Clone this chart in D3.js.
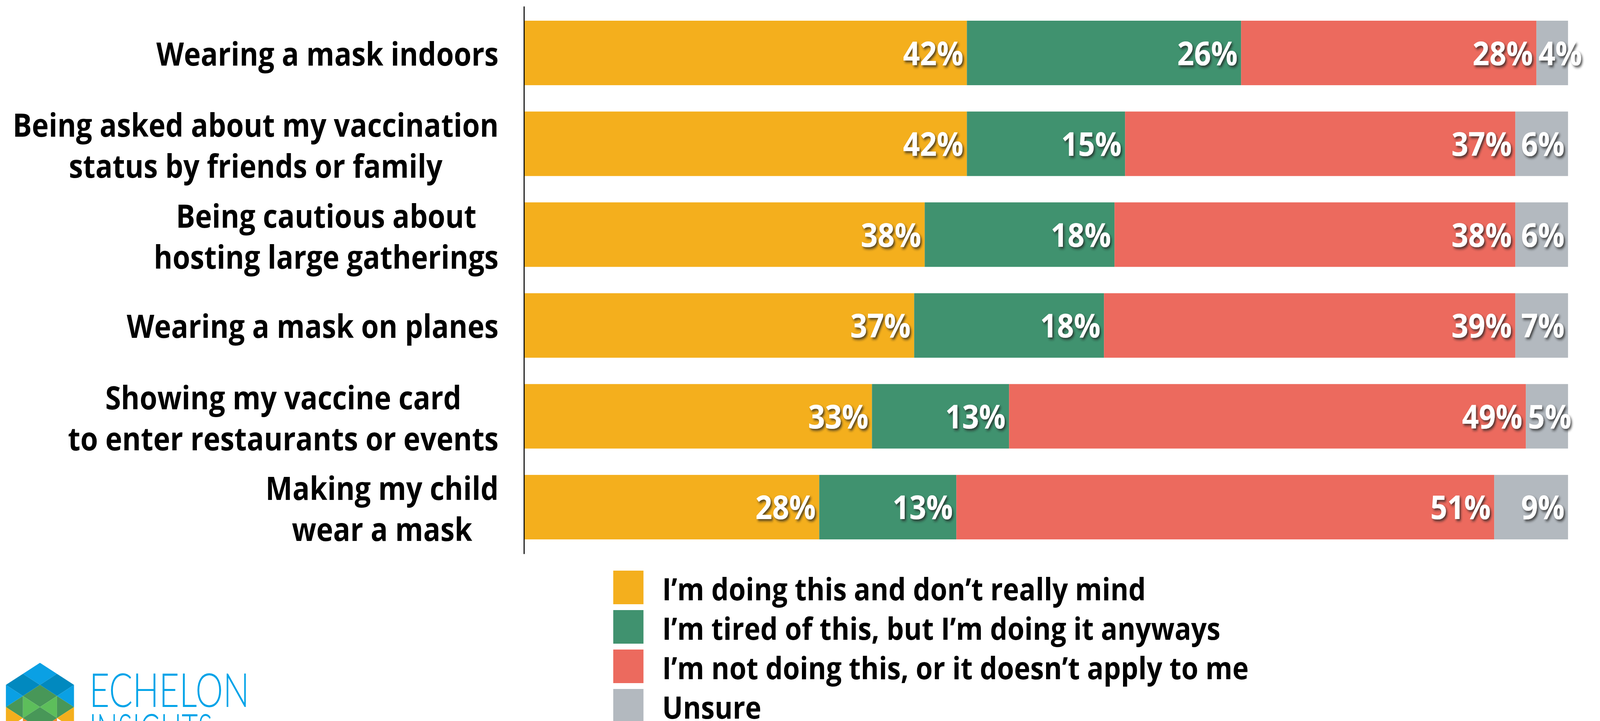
<!DOCTYPE html>
<html lang="en">
<head>
<meta charset="UTF-8">
<title>Pandemic behaviours</title>
<script src="https://d3js.org/d3.v7.min.js"></script>
<style>
  html, body { margin: 0; padding: 0; background: #fff; overflow: hidden; }
  svg { display: block; width: 100vw; height: 100vh; font-family: "Open Sans", sans-serif; }
  .cat { font-weight: 700; font-size: 82px; fill: #000; }
  .pct { font-weight: 700; font-size: 85px; fill: #fff; }
  .leg { font-weight: 700; font-size: 79px; fill: #000; }
</style>
</head>
<body>
<div id="chart"></div>
<script>
  // data
  const categories = [
    ["Wearing a mask indoors"],
    ["Being asked about my vaccination", "status by friends or family"],
    ["Being cautious about", "hosting large gatherings"],
    ["Wearing a mask on planes"],
    ["Showing my vaccine card", "to enter restaurants or events"],
    ["Making my child", "wear a mask"]
  ];
  const doingDontMind = [42, 42, 38, 37, 33, 28];
  const tiredButDoing = [26, 15, 18, 18, 13, 13];
  const notDoing      = [28, 37, 38, 39, 49, 51];
  const unsure        = [4, 6, 6, 7, 5, 9];
  const seriesNames = [
    "I\u2019m doing this and don\u2019t really mind",
    "I\u2019m tired of this, but I\u2019m doing it anyways",
    "I\u2019m not doing this, or it doesn\u2019t apply to me",
    "Unsure"
  ];
  const seriesColors = ["#F4AF1D", "#40926F", "#EC6A5E", "#B3B9BF"];

  const W = 4605, H = 1846;
  // drawn in a 4605x1846 frame, stretched to whatever the window really is
  const svg = d3.select("#chart").append("svg")
      .attr("viewBox", `0 0 ${W} ${H}`)
      .attr("preserveAspectRatio", "none");

  const defs = svg.append("defs");
  const f = defs.append("filter").attr("id", "shadow")
      .attr("x", "-20%").attr("y", "-20%").attr("width", "150%").attr("height", "150%");
  f.append("feDropShadow").attr("dx", 4).attr("dy", 5).attr("stdDeviation", 3)
      .attr("flood-color", "#222").attr("flood-opacity", 0.75);

  const keys = ["a", "b", "c", "d"];
  const rows = categories.map((c, i) => ({
    idx: i, a: doingDontMind[i], b: tiredButDoing[i], c: notDoing[i], d: unsure[i]
  }));
  const stacked = d3.stack().keys(keys)(rows);

  const x = d3.scaleLinear().domain([0, 99]).range([1508, 4513]).clamp(true);
  const y = d3.scaleBand().domain(d3.range(categories.length))
      .range([16, 1418]).paddingInner(0.29).paddingOuter(0.159);

  // bars
  const layers = svg.append("g").selectAll("g")
      .data(stacked).join("g")
      .attr("fill", (d, i) => seriesColors[i]);

  layers.selectAll("rect")
      .data(d => d)
      .join("rect")
      .attr("x", d => x(d[0]))
      .attr("y", d => y(d.data.idx))
      .attr("width", d => x(d[1]) - x(d[0]))
      .attr("height", y.bandwidth());

  // axis line
  svg.append("g")
      .attr("transform", "translate(1508,0)")
      .call(d3.axisLeft(y).tickSize(0).tickSizeOuter(0).tickFormat(""))
      .call(g => g.select(".domain").attr("stroke", "#000").attr("stroke-width", 3));

  // value labels
  const labels = svg.append("g");
  stacked.forEach((layer, si) => {
    layer.forEach(d => {
      const val = d[1] - d[0];
      const t = labels.append("text")
          .attr("class", "pct")
          .attr("filter", "url(#shadow)")
          .attr("text-anchor", "end")
          .attr("y", y(d.data.idx) + y.bandwidth() / 2 + 31)
          .text(val + "%");
      const w = t.node().getComputedTextLength();
      const end = x(d[1]) - 10;
      const minEnd = x(d[0]) + 6 + w;
      t.attr("x", si === 3 ? Math.max(end, minEnd) : end);
    });
  });

  // category labels: lines centred on each other, block right-aligned
  const catG = svg.append("g");
  categories.forEach((lines, i) => {
    const cy = y(i) + y.bandwidth() / 2;
    const g = catG.append("g");
    const texts = lines.map((ln, k) => g.append("text")
        .attr("class", "cat")
        .attr("text-anchor", "middle")
        .attr("y", lines.length === 1 ? cy + 32 : cy - 18 + k * 105)
        .text(ln));
    const maxW = d3.max(texts, t => t.node().getComputedTextLength());
    texts.forEach(t => t.attr("x", 1435 - maxW / 2));
  });

  // legend
  const leg = svg.append("g").selectAll("g")
      .data(seriesNames).join("g")
      .attr("transform", (d, i) => `translate(1765,${1461 + i * 101})`);
  leg.append("rect").attr("width", 87).attr("height", 86)
      .attr("fill", (d, i) => seriesColors[i]);
  leg.append("text").attr("class", "leg")
      .attr("x", 141).attr("y", 76).text(d => d);

  // logo
  const logo = svg.append("g");
  const P = (i, j) => [115 + i * 49, 1697 + j * 28.3];
  const shapes = [
    { c: "#0AA0E4", p: [[0,0],[-1,1],[0,2],[1,1]] },
    { c: "#0189BF", p: [[-1,1],[-2,2],[-1,3],[0,2]] },
    { c: "#0189BF", p: [[1,1],[0,2],[1,3],[2,2]] },
    { c: "#0AA0E4", p: [[-2,2],[-1,3],[-2,4]] },
    { c: "#0AA0E4", p: [[2,2],[1,3],[2,4]] },
    { c: "#489758", p: [[0,2],[-1,3],[0,4],[1,3]] },
    { c: "#5DBE5B", p: [[-1,3],[0,4],[-1,5]] },
    { c: "#5DBE5B", p: [[1,3],[0,4],[1,5]] },
    { c: "#489758", p: [[-2,4],[-1,3],[-1,5]] },
    { c: "#489758", p: [[2,4],[1,3],[1,5]] },
    { c: "#489758", p: [[0,4],[-1,5],[0,6],[1,5]] },
    { c: "#F4AF1D", p: [[-2,4],[-1,5],[-2,6]] },
    { c: "#F4AF1D", p: [[2,4],[1,5],[2,6]] },
    { c: "#EE8B2B", p: [[-1,5],[0,6],[-1,7]] },
    { c: "#EE8B2B", p: [[1,5],[0,6],[1,7]] }
  ];
  logo.selectAll("path").data(shapes).join("path")
      .attr("d", s => "M" + s.p.map(q => P(q[0], q[1]).join(",")).join("L") + "Z")
      .attr("fill", s => s.c);
  logo.append("text").attr("x", 257).attr("y", 1810)
      .attr("font-family", "Lato, sans-serif").attr("font-weight", 300)
      .attr("font-size", 120).attr("fill", "#00A3E8")
      .attr("textLength", 461).attr("lengthAdjust", "spacingAndGlyphs")
      .text("ECHELON");
  logo.append("text").attr("x", 257).attr("y", 1914)
      .attr("font-family", "Lato, sans-serif").attr("font-weight", 300)
      .attr("font-size", 120).attr("fill", "#00A3E8")
      .attr("textLength", 355).attr("lengthAdjust", "spacingAndGlyphs")
      .text("INSIGHTS");
</script>
</body>
</html>
